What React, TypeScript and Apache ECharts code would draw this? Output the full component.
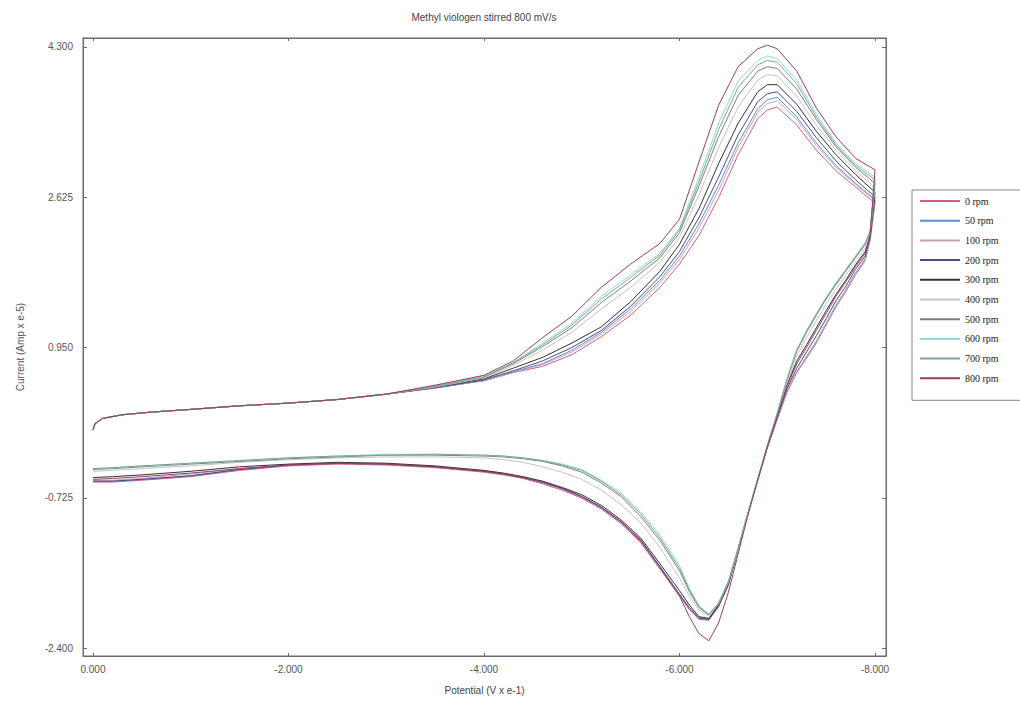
import React, { useEffect, useRef } from "react";
import * as echarts from "echarts";

// Potential grid (V x e-1): forward scan 0 -> -8, reverse scan -8 -> 0
const POT_FWD = [0, -0.02, -0.1, -0.3, -0.6, -1.0, -1.5, -2.0, -2.5, -3.0, -3.5, -4.0, -4.3, -4.6, -4.9, -5.2, -5.5, -5.8, -6.0, -6.2, -6.4, -6.6, -6.8, -6.9, -7.0, -7.2, -7.4, -7.6, -7.8, -8.0];
const POT_REV = [-7.95, -7.9, -7.8, -7.7, -7.6, -7.5, -7.4, -7.3, -7.2, -7.1, -7.0, -6.9, -6.8, -6.7, -6.6, -6.5, -6.4, -6.3, -6.2, -6.1, -6.0, -5.8, -5.6, -5.4, -5.2, -5.0, -4.8, -4.6, -4.4, -4.2, -4.0, -3.5, -3.0, -2.5, -2.0, -1.5, -1.0, -0.5, -0.2, 0.0];

const SERIES_NAMES = ["0 rpm", "50 rpm", "100 rpm", "200 rpm", "300 rpm", "400 rpm", "500 rpm", "600 rpm", "700 rpm", "800 rpm"];
const SERIES_COLORS = ["#d4607c", "#5b8fd6", "#c8a0b4", "#4a4a8c", "#303030", "#c4c4c4", "#7e7e7e", "#8ed8e4", "#7fa88a", "#9c3c64"];

// Current (Amp x e-5), forward scan
const fwd0 = [0.03, 0.10, 0.16, 0.20, 0.23, 0.26, 0.30, 0.33, 0.37, 0.43,
  0.50, 0.58, 0.67, 0.74, 0.87, 1.07, 1.31, 1.62, 1.88, 2.20,
  2.62, 3.10, 3.50, 3.60, 3.63, 3.43, 3.15, 2.92, 2.74, 2.56];
const fwd50 = [0.03, 0.10, 0.16, 0.20, 0.23, 0.26, 0.30, 0.33, 0.37, 0.43,
  0.50, 0.58, 0.68, 0.77, 0.92, 1.12, 1.38, 1.70, 1.97, 2.33,
  2.76, 3.23, 3.61, 3.71, 3.74, 3.52, 3.23, 2.98, 2.78, 2.60];
const fwd100 = [0.03, 0.10, 0.16, 0.20, 0.23, 0.26, 0.30, 0.33, 0.37, 0.43,
  0.50, 0.58, 0.67, 0.76, 0.90, 1.10, 1.35, 1.67, 1.93, 2.28,
  2.70, 3.18, 3.57, 3.67, 3.70, 3.49, 3.20, 2.96, 2.77, 2.59];
const fwd200 = [0.03, 0.10, 0.16, 0.20, 0.23, 0.26, 0.30, 0.33, 0.37, 0.43,
  0.50, 0.59, 0.69, 0.80, 0.95, 1.14, 1.41, 1.74, 2.02, 2.40,
  2.85, 3.32, 3.69, 3.78, 3.80, 3.58, 3.29, 3.03, 2.82, 2.63];
const fwd300 = [0.03, 0.10, 0.16, 0.20, 0.23, 0.26, 0.30, 0.33, 0.37, 0.43,
  0.51, 0.60, 0.72, 0.84, 1.00, 1.18, 1.46, 1.80, 2.10, 2.50,
  3.00, 3.45, 3.80, 3.88, 3.88, 3.66, 3.36, 3.10, 2.88, 2.68];
const fwd400 = [0.03, 0.10, 0.16, 0.20, 0.23, 0.26, 0.30, 0.33, 0.37, 0.43,
  0.51, 0.61, 0.75, 0.92, 1.12, 1.38, 1.62, 1.90, 2.18, 2.65,
  3.18, 3.63, 3.93, 3.99, 3.98, 3.75, 3.43, 3.15, 2.92, 2.73];
const fwd500 = [0.03, 0.10, 0.16, 0.20, 0.23, 0.26, 0.30, 0.33, 0.37, 0.43,
  0.52, 0.62, 0.77, 0.96, 1.17, 1.45, 1.69, 1.95, 2.23, 2.75,
  3.30, 3.76, 4.03, 4.08, 4.06, 3.83, 3.49, 3.19, 2.96, 2.78];
const fwd600 = [0.03, 0.10, 0.16, 0.20, 0.23, 0.26, 0.30, 0.33, 0.37, 0.43,
  0.52, 0.63, 0.78, 1.00, 1.22, 1.52, 1.76, 2.00, 2.28, 2.85,
  3.45, 3.92, 4.15, 4.20, 4.17, 3.93, 3.55, 3.23, 3.00, 2.85];
const fwd700 = [0.03, 0.10, 0.16, 0.20, 0.23, 0.26, 0.30, 0.33, 0.37, 0.43,
  0.52, 0.62, 0.78, 0.98, 1.20, 1.49, 1.73, 1.98, 2.26, 2.80,
  3.38, 3.85, 4.10, 4.15, 4.13, 3.89, 3.52, 3.21, 2.98, 2.82];
const fwd800 = [0.03, 0.10, 0.16, 0.20, 0.23, 0.26, 0.30, 0.33, 0.37, 0.43,
  0.53, 0.64, 0.80, 1.06, 1.30, 1.62, 1.88, 2.11, 2.38, 3.02,
  3.65, 4.08, 4.28, 4.32, 4.28, 4.03, 3.62, 3.30, 3.06, 2.93];

// Current (Amp x e-5), reverse scan
const rev0 = [2.15, 1.92, 1.76, 1.57, 1.40, 1.20, 1.00, 0.83, 0.67, 0.45,
  0.15, -0.16, -0.53, -0.90, -1.30, -1.70, -1.94, -2.09, -2.08, -1.97,
  -1.82, -1.52, -1.22, -1.01, -0.85, -0.73, -0.64, -0.57, -0.51, -0.47,
  -0.44, -0.39, -0.36, -0.35, -0.37, -0.42, -0.49, -0.53, -0.55, -0.55];
const rev50 = [2.16, 1.94, 1.78, 1.59, 1.42, 1.22, 1.02, 0.85, 0.68, 0.46,
  0.15, -0.16, -0.53, -0.90, -1.30, -1.70, -1.93, -2.08, -2.07, -1.96,
  -1.81, -1.51, -1.21, -1.00, -0.84, -0.72, -0.63, -0.56, -0.50, -0.46,
  -0.43, -0.38, -0.35, -0.34, -0.36, -0.41, -0.48, -0.52, -0.54, -0.54];
const rev100 = [2.16, 1.93, 1.77, 1.58, 1.41, 1.21, 1.01, 0.84, 0.68, 0.46,
  0.15, -0.16, -0.53, -0.90, -1.30, -1.69, -1.93, -2.07, -2.06, -1.95,
  -1.80, -1.50, -1.20, -0.99, -0.83, -0.71, -0.62, -0.55, -0.50, -0.46,
  -0.43, -0.38, -0.35, -0.34, -0.36, -0.40, -0.46, -0.51, -0.53, -0.53];
const rev200 = [2.18, 1.97, 1.82, 1.63, 1.47, 1.27, 1.08, 0.90, 0.72, 0.49,
  0.17, -0.15, -0.53, -0.90, -1.30, -1.69, -1.93, -2.08, -2.07, -1.95,
  -1.80, -1.49, -1.19, -0.99, -0.83, -0.71, -0.62, -0.55, -0.50, -0.46,
  -0.43, -0.38, -0.35, -0.34, -0.36, -0.41, -0.48, -0.52, -0.54, -0.54];
const rev300 = [2.20, 2.02, 1.87, 1.70, 1.54, 1.36, 1.17, 0.98, 0.80, 0.53,
  0.19, -0.15, -0.52, -0.90, -1.29, -1.68, -1.92, -2.07, -2.05, -1.92,
  -1.76, -1.46, -1.17, -0.97, -0.81, -0.69, -0.61, -0.54, -0.49, -0.45,
  -0.42, -0.37, -0.34, -0.33, -0.35, -0.38, -0.43, -0.47, -0.49, -0.50];
const rev400 = [2.22, 2.06, 1.91, 1.75, 1.60, 1.43, 1.25, 1.06, 0.86, 0.56,
  0.20, -0.14, -0.52, -0.90, -1.29, -1.67, -1.91, -2.04, -1.98, -1.82,
  -1.62, -1.28, -1.00, -0.80, -0.64, -0.52, -0.44, -0.38, -0.33, -0.30,
  -0.28, -0.27, -0.27, -0.28, -0.30, -0.33, -0.37, -0.40, -0.42, -0.43];
const rev500 = [2.24, 2.10, 1.95, 1.80, 1.65, 1.49, 1.31, 1.12, 0.91, 0.59,
  0.21, -0.14, -0.52, -0.90, -1.29, -1.66, -1.90, -2.03, -1.95, -1.77,
  -1.54, -1.20, -0.93, -0.71, -0.56, -0.44, -0.37, -0.32, -0.29, -0.27,
  -0.26, -0.25, -0.25, -0.27, -0.29, -0.32, -0.35, -0.38, -0.40, -0.41];
const rev600 = [2.25, 2.12, 1.97, 1.82, 1.67, 1.51, 1.33, 1.14, 0.93, 0.60,
  0.22, -0.14, -0.52, -0.90, -1.29, -1.66, -1.90, -2.02, -1.93, -1.73,
  -1.48, -1.14, -0.88, -0.67, -0.53, -0.41, -0.35, -0.31, -0.28, -0.26,
  -0.25, -0.24, -0.24, -0.26, -0.28, -0.31, -0.34, -0.37, -0.39, -0.40];
const rev700 = [2.25, 2.11, 1.96, 1.81, 1.66, 1.50, 1.32, 1.13, 0.92, 0.60,
  0.22, -0.14, -0.52, -0.90, -1.29, -1.66, -1.90, -2.03, -1.94, -1.75,
  -1.51, -1.17, -0.90, -0.69, -0.54, -0.42, -0.36, -0.31, -0.28, -0.26,
  -0.25, -0.24, -0.25, -0.26, -0.28, -0.31, -0.34, -0.37, -0.39, -0.40];
const rev800 = [2.20, 2.00, 1.85, 1.68, 1.52, 1.33, 1.14, 0.95, 0.77, 0.52,
  0.18, -0.15, -0.53, -0.92, -1.35, -1.78, -2.12, -2.32, -2.24, -2.05,
  -1.82, -1.50, -1.20, -0.99, -0.83, -0.71, -0.62, -0.55, -0.50, -0.46,
  -0.43, -0.38, -0.35, -0.34, -0.36, -0.40, -0.45, -0.49, -0.51, -0.52];

const FORWARD = [fwd0, fwd50, fwd100, fwd200, fwd300, fwd400, fwd500, fwd600, fwd700, fwd800];
const REVERSE = [rev0, rev50, rev100, rev200, rev300, rev400, rev500, rev600, rev700, rev800];

const X_TICKS = [0, -2, -4, -6, -8];
const Y_TICKS = [4.3, 2.625, 0.95, -0.725, -2.4];

const TITLE = "Methyl viologen stirred 800 mV/s";
const X_NAME = "Potential (V x e-1)";
const Y_NAME = "Current (Amp x e-5)";

const SANS = "'Liberation Sans', Arial, sans-serif";
const SERIF = "'Liberation Serif', 'Times New Roman', serif";

export default function App() {
  const ref = useRef<HTMLDivElement>(null);

  useEffect(() => {
    if (!ref.current) return;
    const chart = echarts.init(ref.current, undefined, { renderer: "svg" });

    const potential = [...POT_FWD, ...POT_REV];
    const series = SERIES_NAMES.map((name, i) => {
      const current = [...FORWARD[i], ...REVERSE[i]];
      return {
        name,
        type: "line",
        xAxisIndex: 0,
        yAxisIndex: 0,
        showSymbol: false,
        symbol: "none",
        smooth: false,
        data: potential.map((p, k) => [p, current[k]]),
        lineStyle: { width: 1, color: SERIES_COLORS[i] },
        itemStyle: { color: SERIES_COLORS[i] },
        emphasis: { disabled: true },
      };
    });

    const axisLineStyle = { color: "#6a6a6a", width: 1 };
    const labelStyle = { fontFamily: SANS, fontSize: 10, color: "#555" };

    chart.setOption({
      animation: false,
      backgroundColor: "#ffffff",
      graphic: [
        {
          type: "text",
          x: 484,
          y: 12,
          style: {
            text: TITLE,
            textAlign: "center",
            fontFamily: SANS,
            fontSize: 10,
            fill: "#444",
          },
        },
      ],
      grid: {
        left: 83,
        right: 134,
        top: 38,
        bottom: 46,
        show: true,
        borderColor: "#6a6a6a",
        borderWidth: 1,
        backgroundColor: "#ffffff",
      },
      legend: {
        orient: "vertical",
        left: 912,
        top: 190,
        data: SERIES_NAMES,
        icon: "rect",
        itemWidth: 40,
        itemHeight: 2,
        itemGap: 7.7,
        padding: [5, 60, 16, 8],
        borderColor: "#888",
        borderWidth: 1,
        backgroundColor: "#fff",
        textStyle: { fontFamily: SERIF, fontSize: 10, color: "#222", lineHeight: 12 },
      },
      xAxis: [
        {
          type: "value",
          inverse: true,
          min: -8.1125,
          max: 0.102,
          position: "bottom",
          axisLine: { show: true, onZero: false, lineStyle: axisLineStyle },
          axisTick: { show: true, inside: true, length: 3, customValues: X_TICKS, lineStyle: axisLineStyle },
          axisLabel: {
            customValues: X_TICKS,
            formatter: (v: number) => v.toFixed(3),
            margin: 8,
            ...labelStyle,
          },
          splitLine: { show: false },
          name: X_NAME,
          nameLocation: "middle",
          nameGap: 29,
          nameTextStyle: { ...labelStyle, color: "#444" },
        },
        {
          type: "value",
          inverse: true,
          min: -8.1125,
          max: 0.102,
          position: "top",
          axisLine: { show: true, onZero: false, lineStyle: axisLineStyle },
          axisTick: { show: true, inside: true, length: 3, customValues: X_TICKS, lineStyle: axisLineStyle },
          axisLabel: { show: false },
          splitLine: { show: false },
        },
      ],
      yAxis: [
        {
          type: "value",
          min: -2.489,
          max: 4.4,
          position: "left",
          axisLine: { show: true, onZero: false, lineStyle: axisLineStyle },
          axisTick: { show: true, inside: true, length: 4, customValues: Y_TICKS, lineStyle: axisLineStyle },
          axisLabel: {
            customValues: Y_TICKS,
            formatter: (v: number) => v.toFixed(3),
            margin: 10,
            ...labelStyle,
          },
          splitLine: { show: false },
          name: Y_NAME,
          nameLocation: "middle",
          nameGap: 58,
          nameTextStyle: { ...labelStyle, color: "#555" },
        },
        {
          type: "value",
          min: -2.489,
          max: 4.4,
          position: "right",
          axisLine: { show: true, onZero: false, lineStyle: axisLineStyle },
          axisTick: { show: true, inside: true, length: 4, customValues: Y_TICKS, lineStyle: axisLineStyle },
          axisLabel: { show: false },
          splitLine: { show: false },
        },
      ],
      series,
    });

    return () => {
      chart.dispose();
    };
  }, []);

  return (
    <div
      ref={ref}
      style={{ position: "fixed", left: 0, top: 0, width: 1020, height: 702, background: "#fff" }}
    />
  );
}
